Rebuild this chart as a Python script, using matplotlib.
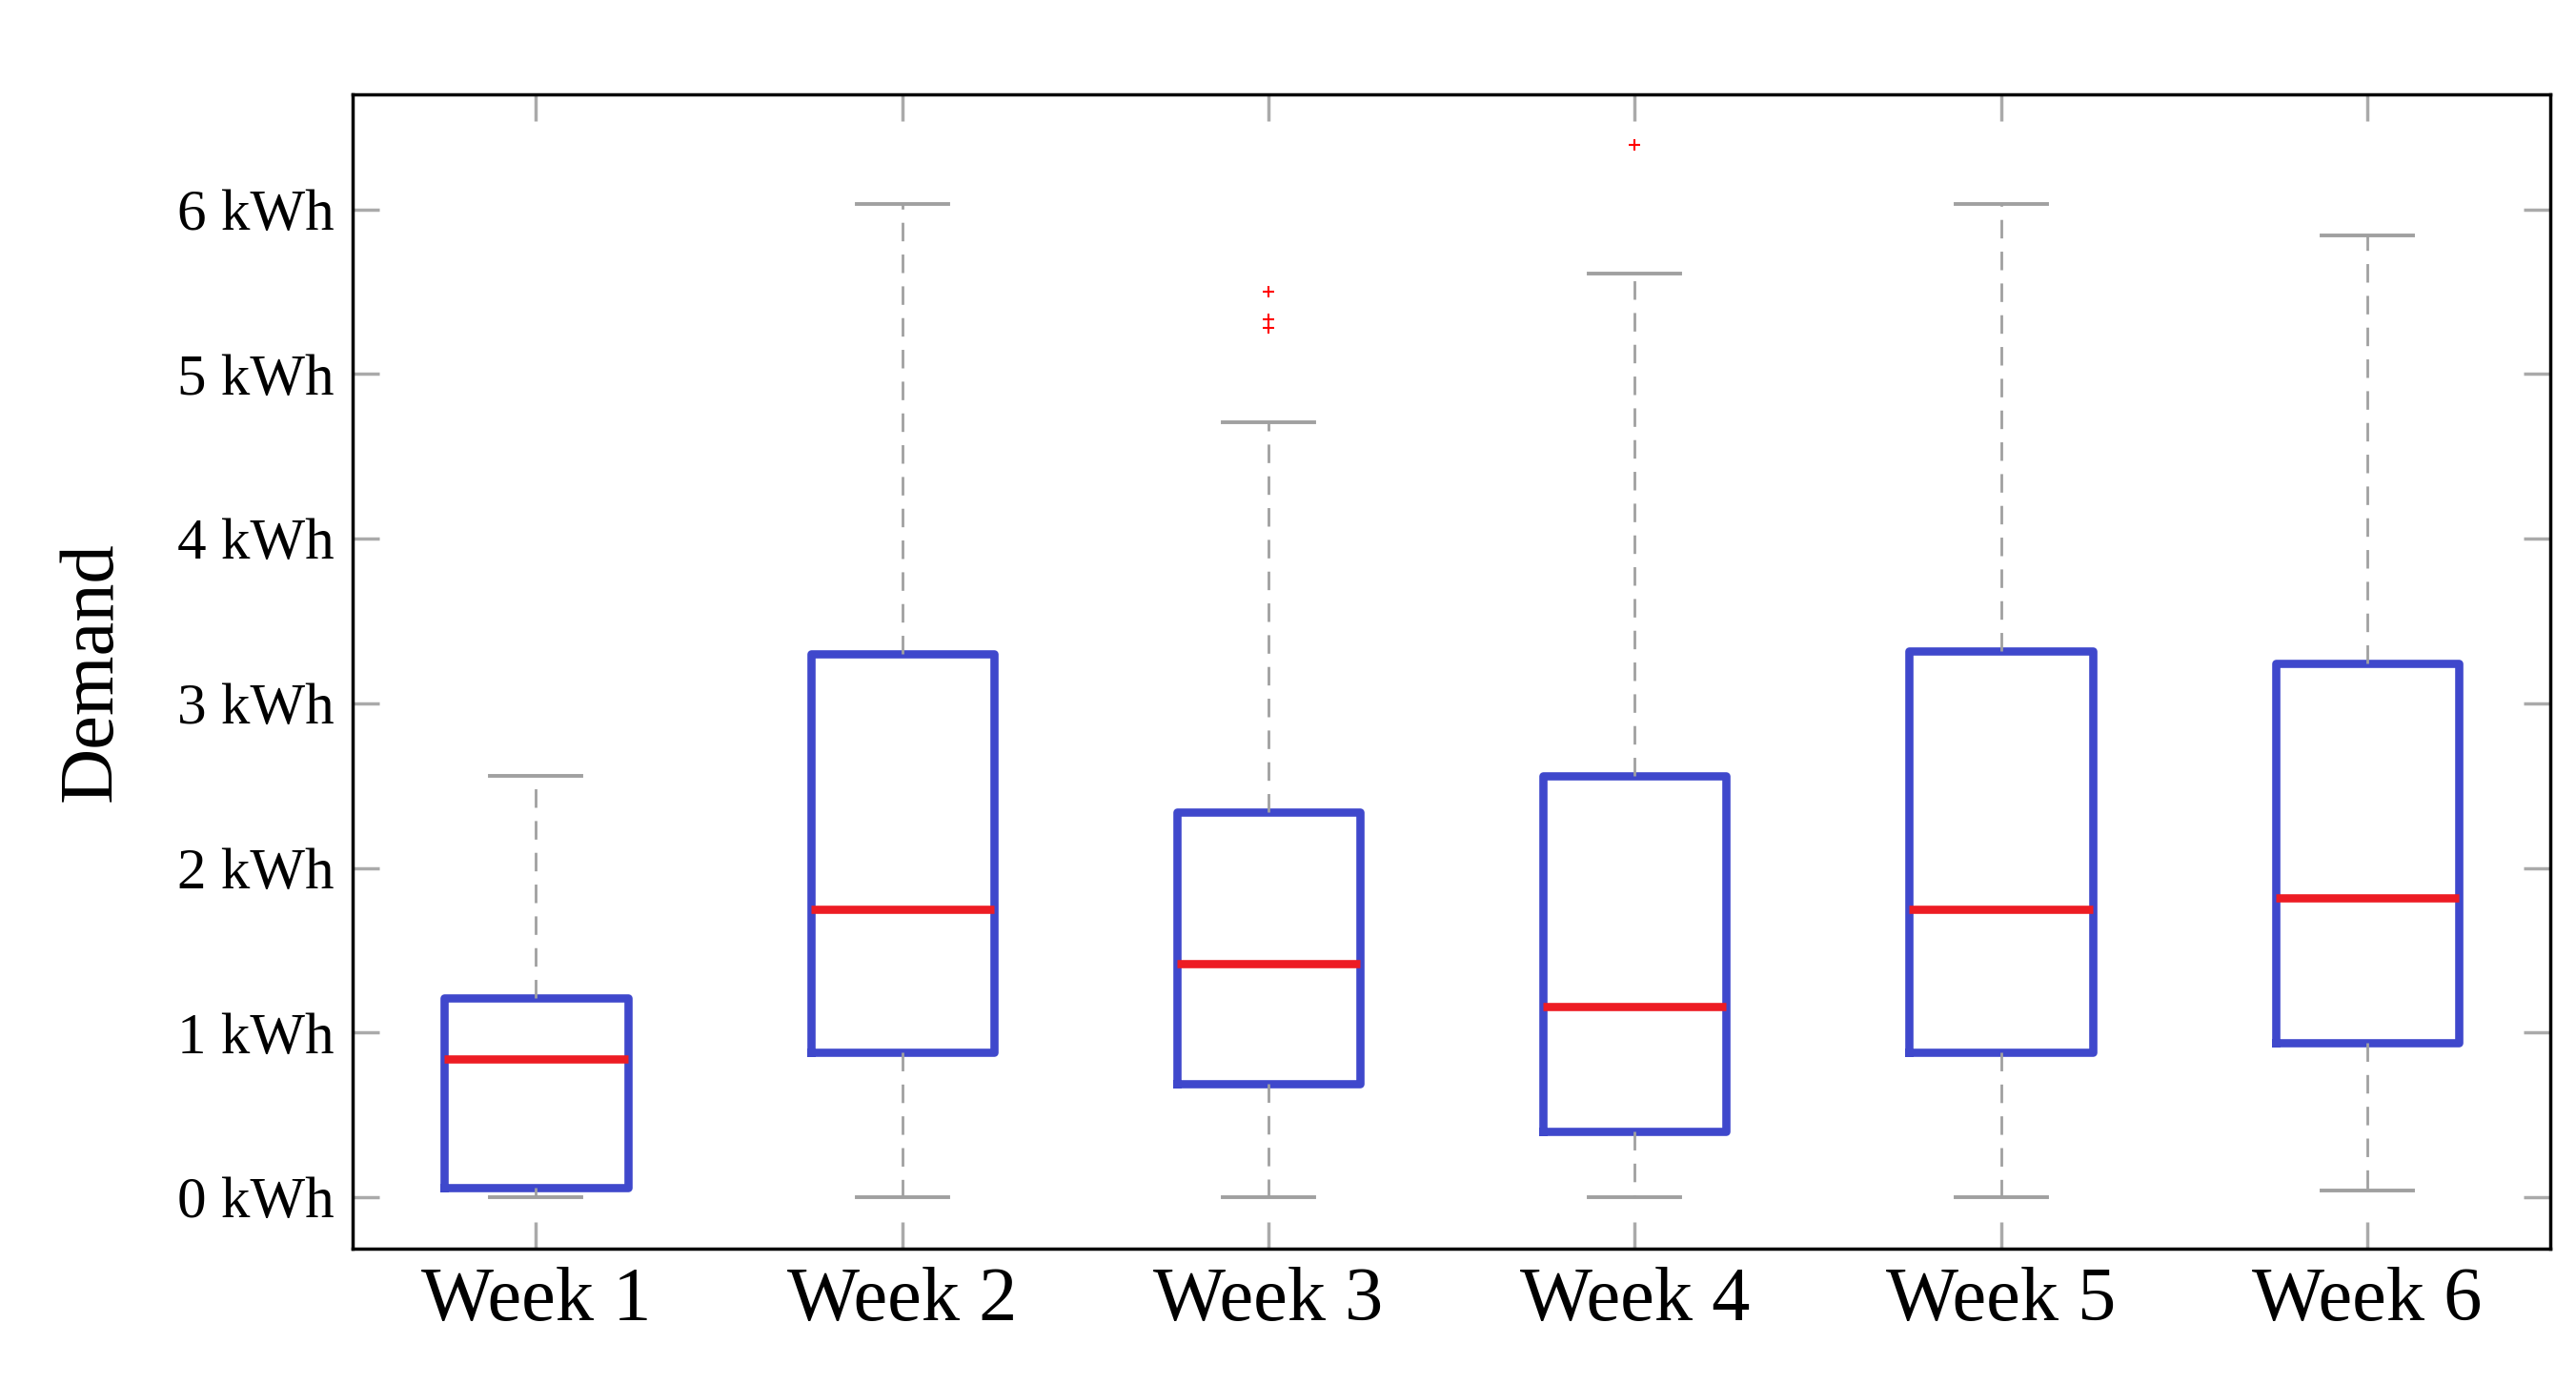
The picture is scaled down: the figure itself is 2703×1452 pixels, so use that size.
# Weekly demand box plot
import matplotlib
matplotlib.use("Agg")
import matplotlib.pyplot as plt

matplotlib.rc("font", family="Liberation Serif")

# Data (kWh)
weeks = ["Week 1", "Week 2", "Week 3", "Week 4", "Week 5", "Week 6"]
whisker_low = [0.0, 0.0, 0.0, 0.0, 0.0, 0.04]
q1 = [0.06, 0.88, 0.69, 0.40, 0.88, 0.94]
medians = [0.84, 1.75, 1.42, 1.16, 1.75, 1.82]
q3 = [1.21, 3.30, 2.34, 2.56, 3.32, 3.24]
whisker_high = [2.56, 6.03, 4.71, 5.61, 6.03, 5.84]
outliers = [[], [], [5.50, 5.33, 5.28], [6.39], [], []]
y_ticks = [0, 1, 2, 3, 4, 5, 6]

stats = []
for i, name in enumerate(weeks):
    stats.append({
        "label": name,
        "whislo": whisker_low[i],
        "q1": q1[i],
        "med": medians[i],
        "q3": q3[i],
        "whishi": whisker_high[i],
        "fliers": outliers[i],
    })

fig = plt.figure(figsize=(27.03, 14.52), dpi=100)
ax = fig.add_axes([0.137, 0.098, 0.853, 0.834])

ax.bxp(stats, widths=0.5, showfliers=True,
       boxprops=dict(color="#3f48cc", linewidth=6.2),
       medianprops=dict(color="#ed1c24", linewidth=6.2),
       whiskerprops=dict(color="#a0a0a0", linewidth=2, linestyle=(0, (7, 5))),
       capprops=dict(color="#a0a0a0", linewidth=2.8),
       flierprops=dict(marker="+", markeredgecolor="red", markersize=9,
                       markeredgewidth=1.5))

ax.set_xlim(0.5, 6.5)
ax.set_ylim(-0.31, 6.7)
ax.set_yticks(y_ticks)
ax.set_yticklabels(["{} kWh".format(v) for v in y_ticks], fontsize=44)
ax.set_xticklabels(weeks, fontsize=58)
ax.set_ylabel("Demand", fontsize=58, labelpad=38)

ax.tick_params(direction="in", length=20, width=2.5, color="#aaaaaa",
               top=True, right=True, pad=14)
ax.tick_params(axis="x", pad=14)
for spine in ax.spines.values():
    spine.set_linewidth(2.5)
    spine.set_color("black")

plt.savefig("out.png", dpi=100)
